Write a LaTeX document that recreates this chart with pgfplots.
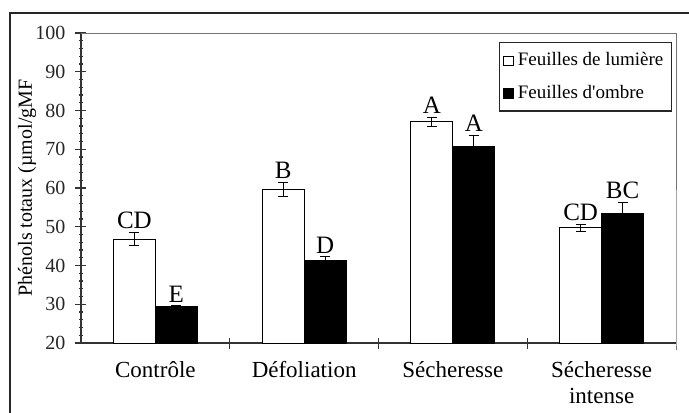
\documentclass[border=0pt]{standalone}
\usepackage{fontspec}
\setmainfont{Liberation Serif}
\usepackage{pgfplots}
\pgfplotsset{compat=1.18}
\begin{document}
\begin{tikzpicture}
\useasboundingbox (0,0) rectangle (344.5pt,206pt);
\draw[line width=1pt, black!85] (5pt,-5pt) -- (5pt,199.5pt) -- (350pt,199.5pt);
\begin{axis}[
  at={(40.5pt,34.5pt)}, anchor=south west,
  scale only axis, width=297.5pt, height=155pt,
  xmin=-0.5, xmax=3.5, ymin=20, ymax=100,
  ybar=0pt, bar width=21pt,
  axis x line*=bottom, axis y line*=left,
  axis line style={line width=0.6pt, black!80, -},
  ytick={20,30,...,100}, minor y tick num=4,
  tick align=center, major tick length=5.5pt, minor tick length=2pt,
  tick style={black!80, line width=0.6pt},
  xtick={0.5,1.5,2.5}, xticklabels={},
  extra x ticks={0,1,2,3},
  extra x tick labels={Contrôle, Défoliation, Sécheresse, Sécheresse\\intense},
  extra x tick style={major tick length=0pt},
  xticklabel style={font=\fontsize{11.5}{13}\selectfont, align=center, text depth=0pt, yshift=-5.5pt},
  yticklabel style={font=\fontsize{10}{11}\selectfont, xshift=-1.5pt, black!85},
  /pgf/number format/assume math mode=true,
  ylabel={Phénols totaux (µmol/gMF},
  ylabel style={at={(axis description cs:-0.0908,0.5)}, anchor=center, font=\fontsize{10}{11}\selectfont},
  legend cell align=left,
  legend style={at={(1,1)}, anchor=north east, xshift=-2pt, yshift=-4.5pt,
    draw=black!85, line width=0.6pt, font=\fontsize{9.5}{11}\selectfont,
    row sep=4pt, inner xsep=2pt, inner ysep=3pt},
  legend image code/.code={\draw[#1,/tikz/.cd,draw=black,line width=0.4pt] (0pt,-0.25em) rectangle (0.48em,0.23em);},
  after end axis/.code={\draw[black!55, line width=0.5pt] (rel axis cs:0,1) -- (rel axis cs:1,1) -- (rel axis cs:1,0) -- ++(0,-3.5pt);},
]
\addplot[fill=white, draw=black, line width=0.5pt, bar shift=-10.5pt,
  error bars/.cd, y dir=both, y explicit,
  error bar style={black, line width=0.5pt},
  error mark options={rotate=90, mark size=2.5pt, black, line width=0.5pt}]
  coordinates {(0,46.8) +- (0,1.7) (1,59.7) +- (0,1.8) (2,77.1) +- (0,1.2) (3,49.7) +- (0,0.9)};
\addplot[fill=black, draw=black, line width=0.5pt, bar shift=10.5pt,
  error bars/.cd, y dir=both, y explicit,
  error bar style={black, line width=0.5pt},
  error mark options={rotate=90, mark size=2.5pt, black, line width=0.5pt}]
  coordinates {(0,29.3) +- (0,0.3) (1,41.2) +- (0,1.0) (2,70.6) +- (0,2.9) (3,53.4) +- (0,2.9)};
\addplot[draw=none, fill=none, bar shift=-10.5pt, forget plot,
  nodes near coords, point meta=explicit symbolic,
  every node near coord/.append style={font=\fontsize{12.5}{14}\selectfont, inner sep=0pt, yshift=1.7pt, black}]
  coordinates {(0,48.5) [CD] (1,61.5) [B] (2,78.3) [A] (3,50.6) [CD]};
\addplot[draw=none, fill=none, bar shift=10.5pt, forget plot,
  nodes near coords, point meta=explicit symbolic,
  every node near coord/.append style={font=\fontsize{12.5}{14}\selectfont, inner sep=0pt, yshift=1.7pt, black}]
  coordinates {(0,29.6) [E] (1,42.2) [D] (2,73.5) [A] (3,56.3) [BC]};
\legend{Feuilles de lumière, Feuilles d\textquotesingle ombre}
\end{axis}
\end{tikzpicture}
\end{document}
